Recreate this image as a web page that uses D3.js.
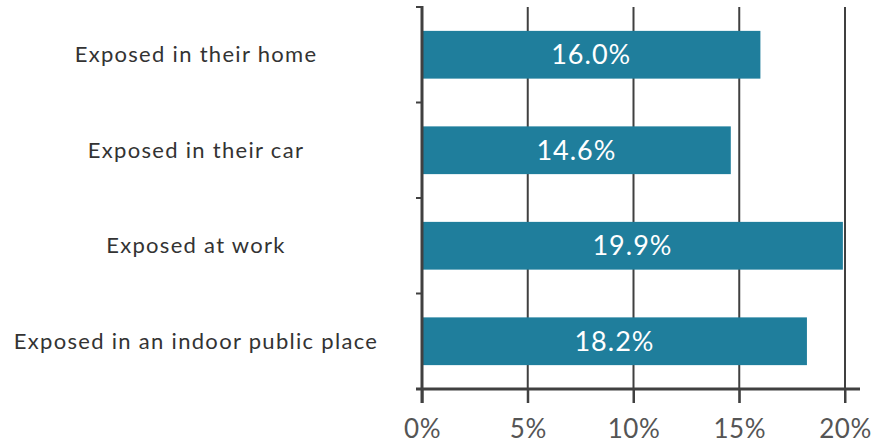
<!DOCTYPE html>
<html>
<head>
<meta charset="utf-8">
<script src="https://cdn.jsdelivr.net/npm/d3@7"></script>
<style>
  html, body { margin: 0; padding: 0; background: #fff; }
  svg { display: block; }
</style>
</head>
<body>
<svg id="chart"></svg>
<script>
// ── Data ─────────────────────────────────────────────
const categories = [
  'Exposed in their home',
  'Exposed in their car',
  'Exposed at work',
  'Exposed in an indoor public place'
];
const values     = [16.0, 14.6, 19.9, 18.2];
const tickValues = [0, 5, 10, 15, 20];

// ── Layout ───────────────────────────────────────────
const W = 888, H = 444;
const margin = { top: 7, right: 43, bottom: 55, left: 422 };
const iW = W - margin.left - margin.right;
const iH = H - margin.top - margin.bottom;

const BAR   = '#1f7e9c';
const AXIS  = '#404040';
const FONT  = 'Lato, "Open Sans", sans-serif';

const svg = d3.select('#chart').attr('width', W).attr('height', H);
const g = svg.append('g').attr('transform', `translate(${margin.left},${margin.top})`);

const x = d3.scaleLinear().domain([0, 20]).range([0, iW]);
const y = d3.scaleBand().domain(categories).range([0, iH])
  .paddingInner(0.5).paddingOuter(0.25);

// ── Grid lines ───────────────────────────────────────
g.append('g')
  .selectAll('line')
  .data(tickValues.slice(1))
  .join('line')
    .attr('x1', d => x(d)).attr('x2', d => x(d))
    .attr('y1', 0).attr('y2', iH + 14)
    .attr('stroke', AXIS)
    .attr('stroke-width', 2);

// ── Bars ─────────────────────────────────────────────
const rows = categories.map((c, i) => ({ cat: c, val: values[i] }));

g.selectAll('.bar')
  .data(rows)
  .join('rect')
    .attr('class', 'bar')
    .attr('x', 0)
    .attr('y', d => y(d.cat))
    .attr('width', d => x(d.val))
    .attr('height', y.bandwidth())
    .attr('fill', BAR);

g.selectAll('.val')
  .data(rows)
  .join('text')
    .attr('class', 'val')
    .attr('x', d => x(d.val) / 2)
    .attr('y', d => y(d.cat) + y.bandwidth() / 2)
    .attr('dy', '0.36em')
    .attr('text-anchor', 'middle')
    .attr('fill', '#fff')
    .attr('font-size', 27)
    .attr('letter-spacing', 1)
    .attr('font-family', FONT)
    .text(d => d.val.toFixed(1) + '%');

// ── Axes ─────────────────────────────────────────────
// x axis
const xAx = g.append('g')
  .attr('transform', `translate(0,${iH})`)
  .call(d3.axisBottom(x).tickValues(tickValues).tickSize(14).tickPadding(17)
    .tickFormat(d => d + '%'));
xAx.select('.domain').remove();
xAx.selectAll('.tick line').attr('stroke', AXIS).attr('stroke-width', 2);
xAx.selectAll('text')
  .attr('fill', '#555').attr('font-size', 26).attr('letter-spacing', 0.5)
  .attr('font-family', FONT);
xAx.append('line')
  .attr('x1', -6).attr('x2', iW + 15)
  .attr('stroke', AXIS).attr('stroke-width', 3);

// y axis: ticks at band boundaries
const bounds = categories.map(c => y(c) - y.step() * y.paddingInner() / 2).concat([iH]);
g.append('g')
  .selectAll('line')
  .data(bounds)
  .join('line')
    .attr('x1', -6).attr('x2', 0)
    .attr('y1', d => d).attr('y2', d => d)
    .attr('stroke', AXIS).attr('stroke-width', 2);
g.append('line')
  .attr('x1', 0).attr('x2', 0)
  .attr('y1', -1).attr('y2', iH + 14)
  .attr('stroke', AXIS).attr('stroke-width', 3);

// category labels
svg.append('g')
  .selectAll('text')
  .data(categories)
  .join('text')
    .attr('x', 196)
    .attr('y', d => margin.top + y(d) + y.bandwidth() / 2)
    .attr('dy', '0.35em')
    .attr('text-anchor', 'middle')
    .attr('fill', '#333')
    .attr('font-size', 22)
    .attr('letter-spacing', 1.3)
    .attr('font-family', FONT)
    .text(d => d);
</script>
</body>
</html>
